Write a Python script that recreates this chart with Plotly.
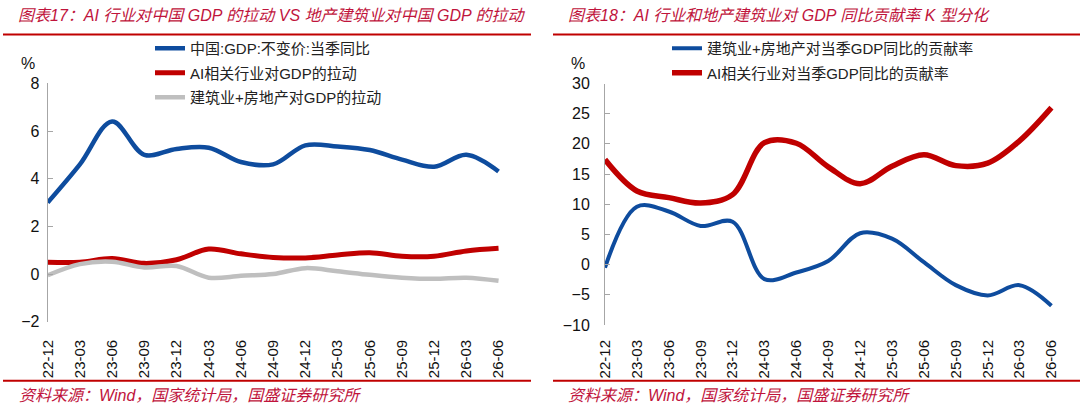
import plotly.graph_objects as go

# quarterly points
quarters = ['22-12', '23-03', '23-06', '23-09', '23-12', '24-03', '24-06', '24-09',
            '24-12', '25-03', '25-06', '25-09', '25-12', '26-03', '26-06']

# left panel: pull on GDP (%)
gdp_yoy = [3.0, 4.6, 6.4, 5.0, 5.25, 5.3, 4.7, 4.6, 5.4, 5.35, 5.2, 4.8, 4.5, 5.0, 4.3]
ai_pull = [0.5, 0.5, 0.65, 0.45, 0.6, 1.05, 0.85, 0.7, 0.68, 0.8, 0.9, 0.75, 0.75, 0.97, 1.08]
construction_pull = [-0.05, 0.42, 0.52, 0.28, 0.34, -0.15, -0.07, 0.0, 0.25, 0.12, -0.03,
                     -0.15, -0.2, -0.15, -0.28]

# right panel: contribution share to GDP growth (%)
construction_share = [-0.5, 9.6, 8.8, 6.4, 7.1, -2.4, -1.3, 0.6, 5.2, 4.3, 0.4, -3.4, -5.1,
                      -3.4, -6.8]
ai_share = [17.4, 12.2, 11.1, 10.2, 11.6, 20.2, 20.1, 16.2, 13.4, 16.3, 18.2, 16.4, 16.8,
            20.5, 26.0]

W, H = 1080, 414
BLUE = '#0E4C9E'
RED = '#C00000'
GRAY = '#BFBFBF'
AXIS = '#A6A6A6'
TXT_RED = '#C0143C'
FONT = 'Liberation Sans, Noto Sans CJK SC'

idx = list(range(len(quarters)))


def px(p):
    return p / W


def py(p):
    return 1 - p / H


fig = go.Figure()

# left panel
fig.add_trace(go.Scatter(x=idx, y=gdp_yoy, name='中国:GDP:不变价:当季同比', mode='lines',
                         line=dict(color=BLUE, width=4.5, shape='spline', smoothing=1),
                         xaxis='x', yaxis='y', legend='legend', legendgroup='a'))
fig.add_trace(go.Scatter(x=idx, y=ai_pull, name='AI相关行业对GDP的拉动', mode='lines',
                         line=dict(color=RED, width=5, shape='spline', smoothing=1),
                         xaxis='x', yaxis='y', legend='legend', legendgroup='b'))
fig.add_trace(go.Scatter(x=idx, y=construction_pull, name='建筑业+房地产对GDP的拉动', mode='lines',
                         line=dict(color=GRAY, width=4.5, shape='spline', smoothing=1),
                         xaxis='x', yaxis='y', legend='legend', legendgroup='c'))

# right panel
fig.add_trace(go.Scatter(x=idx, y=construction_share, name='建筑业+房地产对当季GDP同比的贡献率',
                         mode='lines', line=dict(color=BLUE, width=4, shape='spline', smoothing=1),
                         xaxis='x3', yaxis='y3', legend='legend2', legendgroup='d'))
fig.add_trace(go.Scatter(x=idx, y=ai_share, name='AI相关行业对当季GDP同比的贡献率',
                         mode='lines', line=dict(color=RED, width=5.5, shape='spline', smoothing=1),
                         xaxis='x3', yaxis='y3', legend='legend2', legendgroup='e'))

left_x = [px(47.7), px(508.2)]
left_y = [py(321.8), py(83.3)]
right_x = [px(605), px(1061)]
right_y = [py(325), py(83.5)]
xr = [0, 14.3]

left_zero = left_y[0] + (0 - -2) / 10 * (left_y[1] - left_y[0])
right_zero = right_y[0] + (0 - -10) / 40 * (right_y[1] - right_y[0])

label_axis = dict(range=xr, tickmode='array', tickvals=idx, ticktext=quarters, tickangle=-90,
                  ticks='outside', tickcolor='rgba(0,0,0,0)', showline=False, showgrid=False,
                  zeroline=False, automargin=False,
                  tickfont=dict(family=FONT, size=15, color='#111'))
zero_axis = dict(range=xr, tickmode='array', tickvals=idx, showticklabels=False, ticks='inside',
                 ticklen=5, tickcolor=AXIS, showline=True, linecolor=AXIS, linewidth=1,
                 showgrid=False, zeroline=False, anchor='free', automargin=False)
val_axis = dict(ticks='inside', ticklen=5, tickcolor=AXIS, showline=True, linecolor=AXIS,
                linewidth=1, showgrid=False, zeroline=False, automargin=False,
                tickfont=dict(family=FONT, size=16, color='#111'))

fig.update_layout(
    width=W, height=H,
    margin=dict(l=0, r=0, t=0, b=0, autoexpand=False),
    paper_bgcolor='white', plot_bgcolor='white',
    font=dict(family=FONT, size=15, color='#222'),
    xaxis=dict(label_axis, domain=left_x, anchor='y', ticklen=11),
    xaxis2=dict(zero_axis, overlaying='x', position=left_zero),
    yaxis=dict(val_axis, domain=left_y, anchor='x', range=[-2, 8],
               tickvals=[-2, 0, 2, 4, 6, 8], ticklabelstandoff=4),
    xaxis3=dict(label_axis, domain=right_x, anchor='y3', ticklen=8),
    xaxis4=dict(zero_axis, overlaying='x3', position=right_zero),
    yaxis3=dict(val_axis, domain=right_y, anchor='x3', range=[-10, 30],
                tickvals=[-10, -5, 0, 5, 10, 15, 20, 25, 30], ticklabelstandoff=11),
    legend=dict(x=px(150), y=py(32), xanchor='left', yanchor='top', bgcolor='rgba(0,0,0,0)',
                tracegroupgap=2, font=dict(family=FONT, size=15, color='#222')),
    legend2=dict(x=px(667), y=py(32), xanchor='left', yanchor='top', bgcolor='rgba(0,0,0,0)',
                 tracegroupgap=2, font=dict(family=FONT, size=15, color='#222')),
    showlegend=True,
)

title_font = dict(family=FONT, size=16, color=TXT_RED, style='italic')
src_font = dict(family=FONT, size=16, color=TXT_RED, style='italic')
notes = [
    (16, 15, '图表17：AI 行业对中国 GDP 的拉动 VS 地产建筑业对中国 GDP 的拉动', title_font),
    (566, 15, '图表18：AI 行业和地产建筑业对 GDP 同比贡献率 K 型分化', title_font),
    (17, 395, '资料来源：Wind，国家统计局，国盛证券研究所', src_font),
    (566, 395, '资料来源：Wind，国家统计局，国盛证券研究所', src_font),
]
for x, y, t, f in notes:
    fig.add_annotation(x=px(x), y=py(y), xref='paper', yref='paper', text=t, showarrow=False,
                       xanchor='left', yanchor='middle', font=f)
for x in (28, 577.5):
    fig.add_annotation(x=px(x), y=py(63), xref='paper', yref='paper', text='%', showarrow=False,
                       xanchor='center', yanchor='middle',
                       font=dict(family=FONT, size=16, color='#111'))

# red separator rules above and below each panel
for x0, x1 in ((3, 531), (553, 1080)):
    for y in (34.6, 380.7):
        fig.add_shape(type='line', xref='paper', yref='paper', x0=px(x0), x1=px(x1),
                      y0=py(y), y1=py(y), line=dict(color=RED, width=2))

# drop the page's default body margin so the figure sits at the window corner
fig.write_html('out.html', config={'displayModeBar': False},
               post_script="document.body.style.margin='0';")
